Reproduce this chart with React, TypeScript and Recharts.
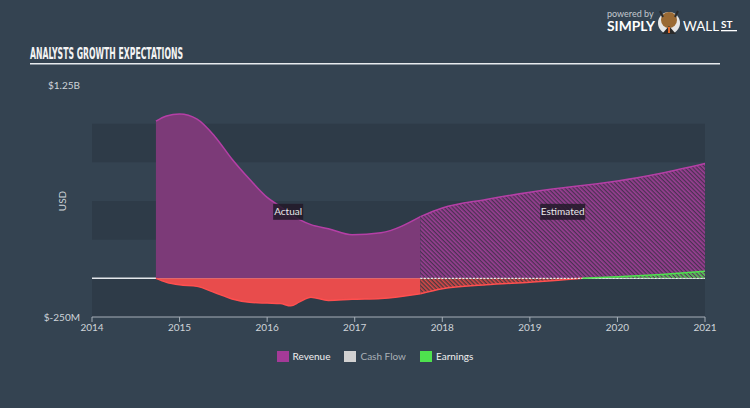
import React from "react";
import {
  AreaChart, Area, XAxis, YAxis, ReferenceArea, ReferenceLine, ReferenceDot, Label,
} from "recharts";

// dates as fractional years
const dates = [2014.73, 2014.85, 2015.0, 2015.2, 2015.4, 2015.6, 2015.8, 2016.0, 2016.15, 2016.27, 2016.37, 2016.5, 2016.7, 2016.97, 2017.3, 2017.75, 2018.0, 2018.5, 2019.0, 2019.5, 2019.6, 2020.0, 2020.5, 2021.0];
// USD millions
const revenue = [1016, 1050, 1062, 1029, 919, 770, 640, 523, 464, 412, 380, 347, 321, 282, 295, 399, 455, 510, 557, 594, 600, 629, 679, 742];
const earnings = [0, -25, -42, -52, -92, -133, -155, -160, -163, -178, -152, -122, -143, -136, -131, -100, -68, -42, -25, -5, 0, 10, 25, 45];
// cash flow estimate sits on the zero line
const cashFlowEst = 0;

const xTicks = [2014, 2015, 2016, 2017, 2018, 2019, 2020, 2021];
const yTicks = [-250, 1250];
const bands = [[-250, 0], [250, 500], [750, 1000]];

const estStart = 2017.75;
const earnCross = 2019.6;

const data = dates.map((d, i) => ({
  date: d,
  revActual: d <= estStart ? revenue[i] : null,
  revEst: d >= estStart ? revenue[i] : null,
  earnActual: d <= estStart ? earnings[i] : null,
  earnEstNeg: d >= estStart && d <= earnCross ? earnings[i] : null,
  earnEstPos: d >= earnCross ? earnings[i] : null,
  cashEst: d >= estStart ? cashFlowEst : null,
}));

const BG = "#344351";
const BAND = "#2e3b48";
const TXT = "#cfd4d9";
const FONT = "Lato, 'Open Sans', sans-serif";

const tagShape = (text: string, w: number) => (props: any) => {
  const { cx, cy } = props;
  return (
    <g>
      <rect x={cx - w / 2} y={cy - 8} width={w} height={16} fill="#221a29" fillOpacity={0.85} />
      <text x={cx} y={cy + 3.5} textAnchor="middle" fill="#e8e8ea" fontSize={10} fontFamily={FONT}>{text}</text>
    </g>
  );
};

const legendItems = [
  { name: "Revenue", color: "#a43a98", text: "#f0f0f0" },
  { name: "Cash Flow", color: "#d2d2d2", text: "#a9b0b7" },
  { name: "Earnings", color: "#4ee24e", text: "#f0f0f0" },
];

export default function App() {
  return (
    <div style={{ position: "fixed", left: 0, top: 0, width: 750, height: 408, background: BG, fontFamily: FONT, overflow: "hidden" }}>
      <svg width={750} height={408} style={{ position: "absolute", left: 0, top: 0 }}>
        <text x={30} y={59} fill="#f4f4f4" fontSize={16} fontWeight="bold" fontFamily="'Liberation Sans Narrow', 'DejaVu Sans Condensed', sans-serif" textLength={153} lengthAdjust="spacingAndGlyphs">ANALYSTS GROWTH EXPECTATIONS</text>
        <rect x={30} y={63} width={690} height={1} fill="#e8ebee" />
        <rect x={30} y={64} width={690} height={1} fill="#8c96a0" />
        <text x={607} y={17} fill="#c3c9cf" fontSize={9} fontFamily={FONT}>powered by</text>
        <text x={607} y={31} fill="#ffffff" fontSize={13} fontWeight="bold" fontFamily={FONT} textLength={48} lengthAdjust="spacingAndGlyphs">SIMPLY</text>
        <circle cx={669} cy={23} r={11} fill="#e6e6e6" />
        <circle cx={669} cy={20} r={8} fill="#9a6a34" />
        <path d="M660 11 L663 17 M678 11 L675 17" stroke="#2a2a2a" strokeWidth={2} />
        <path d="M662 34 L669 26 L676 34 Z" fill="#2b2b2b" />
        <rect x={668} y={27} width={2} height={6} fill="#e0692a" />
        <text x={683} y={31} fill="#ffffff" fontSize={13} fontFamily={FONT} textLength={36} lengthAdjust="spacingAndGlyphs">WALL</text>
        <text x={721} y={28} fill="#ffffff" fontSize={10} fontWeight="bold" fontFamily={FONT}>ST</text>
        <rect x={721} y={30} width={16} height={1.3} fill="#ffffff" />
      </svg>
      <div style={{ position: "absolute", left: 0, top: 0 }}>
        <AreaChart width={750} height={408} data={data} margin={{ top: 85, right: 45, bottom: 61, left: 32 }}>
          <defs>
            <pattern id="hatchRev" width="3" height="3" patternUnits="userSpaceOnUse" patternTransform="rotate(-45)">
              <rect width="3" height="3" fill="#4a3152" />
              <rect width="1.7" height="3" fill="#9a3f93" />
            </pattern>
            <pattern id="hatchRed" width="3" height="3" patternUnits="userSpaceOnUse" patternTransform="rotate(-45)">
              <rect width="3" height="3" fill="#4a3a40" />
              <rect width="1.6" height="3" fill="#d84848" />
            </pattern>
            <pattern id="hatchGreen" width="3" height="3" patternUnits="userSpaceOnUse" patternTransform="rotate(-45)">
              <rect width="1.6" height="3" fill="#4ccf4c" />
            </pattern>
          </defs>
          {bands.map(([a, b]) => (
            <ReferenceArea key={a} y1={a} y2={b} fill={BAND} fillOpacity={1} stroke="none" zIndex={-60} ifOverflow="hidden" />
          ))}
          <ReferenceLine y={0} stroke="#e4e8ec" strokeWidth={1.5} zIndex={-40} />
          <XAxis
            dataKey="date"
            type="number"
            domain={[2014, 2021]}
            ticks={xTicks}
            allowDataOverflow
            stroke="#a6afb8"
            tickSize={5}
            tick={{ fontSize: 10, fill: TXT, fontFamily: FONT }}
          />
          <YAxis
            width={60}
            domain={[-250, 1250]}
            ticks={yTicks}
            allowDataOverflow
            axisLine={false}
            tickLine={false}
            tickMargin={6}
            tick={{ fontSize: 10, fill: TXT, fontFamily: FONT }}
            tickFormatter={(v: number) => (v >= 1000 ? `$${v / 1000}B` : `$${v}M`)}
          >
            <Label value="USD" angle={-90} position="center" fill={TXT} fontSize={10} fontFamily={FONT} />
          </YAxis>

          <Area dataKey="revActual" type="monotone" stroke="#b53fa6" strokeWidth={1.5} fill="#7c3a78" fillOpacity={1} isAnimationActive={false} />
          <Area dataKey="earnActual" type="monotone" stroke="#ff4f4f" strokeWidth={1.5} fill="#e84c4c" fillOpacity={1} isAnimationActive={false} />
          <Area dataKey="revEst" type="monotone" stroke="#b53fa6" strokeWidth={1.5} fill="url(#hatchRev)" fillOpacity={1} isAnimationActive={false} />
          <Area dataKey="earnEstNeg" type="monotone" stroke="#ff4f4f" strokeWidth={1.5} fill="url(#hatchRed)" fillOpacity={1} isAnimationActive={false} />
          <Area dataKey="cashEst" type="linear" stroke="#e8ebee" strokeWidth={1.2} strokeDasharray="2 1.5" fill="none" isAnimationActive={false} />
          <Area dataKey="earnEstPos" type="monotone" stroke="#4ee24e" strokeWidth={1.5} fill="url(#hatchGreen)" fillOpacity={1} isAnimationActive={false} />

          <ReferenceDot x={(dates[0] + estStart) / 2} y={430} r={0} shape={tagShape("Actual", 30)} />
          <ReferenceDot x={(estStart + 2021) / 2} y={430} r={0} shape={tagShape("Estimated", 45)} />
        </AreaChart>
      </div>
      <div style={{ position: "absolute", top: 350, left: 0, width: 750, display: "flex", justifyContent: "center", gap: 14, fontSize: 10, alignItems: "center" }}>
        {legendItems.map((it) => (
          <div key={it.name} style={{ display: "flex", alignItems: "center", gap: 4 }}>
            <span style={{ display: "inline-block", width: 12, height: 11, background: it.color }} />
            <span style={{ color: it.text }}>{it.name}</span>
          </div>
        ))}
      </div>
    </div>
  );
}
